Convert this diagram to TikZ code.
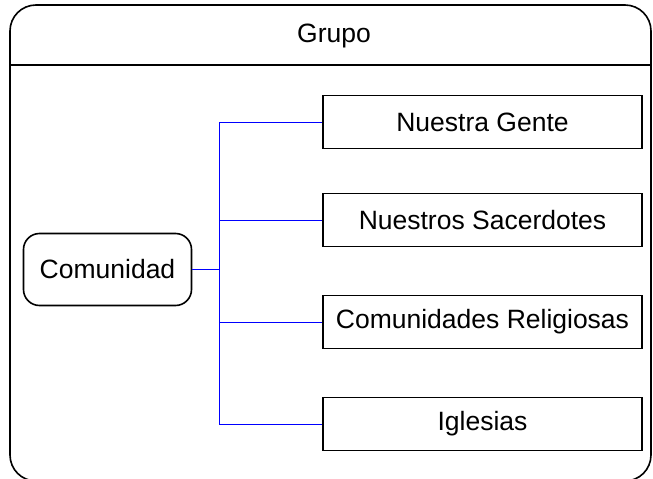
\documentclass[tikz,border=0pt]{standalone}
\usepackage{fontspec}
\setmainfont{Liberation Sans}
\begin{document}
\begin{tikzpicture}[x=1pt,y=-1pt,
    caja/.style={draw,line width=1.6pt,minimum width=319pt,minimum height=53pt,
        inner sep=0pt,font=\fontsize{26.5}{30}\selectfont},
    raiz/.style={caja,rounded corners=16pt,minimum width=168pt,minimum height=72pt},
    enlace/.style={draw=blue,line width=1pt}]
    \useasboundingbox (0,0) rectangle (653,479);
    \clip (0,0) rectangle (653,479);
    % marco del grupo
    \node[draw,line width=1.6pt,rounded corners=26pt,minimum width=641pt,
        minimum height=476pt,inner sep=0pt] (grupo) at (330.5,243) {};
    \node[font=\fontsize{26.5}{30}\selectfont] (titulo) at (334,36) {Grupo};
    \draw[line width=1.6pt] (grupo.west |- 0,65) -- (grupo.east |- 0,65);
    % nodos
    \node[raiz] (comunidad) at (107.5,269.5) {Comunidad};
    \foreach \nombre/\y [count=\i] in {Nuestra Gente/122,Nuestros Sacerdotes/220,
            Comunidades Religiosas/322,Iglesias/424}
        \node[caja] (hijo\i) at (482.5,\y) {\nombre};
    % enlaces
    \coordinate (bus) at (219,269.5);
    \draw[enlace] (bus) -- (comunidad.east);
    \foreach \i in {1,...,4}
        \draw[enlace] (bus) |- (hijo\i.west);
\end{tikzpicture}
\end{document}
